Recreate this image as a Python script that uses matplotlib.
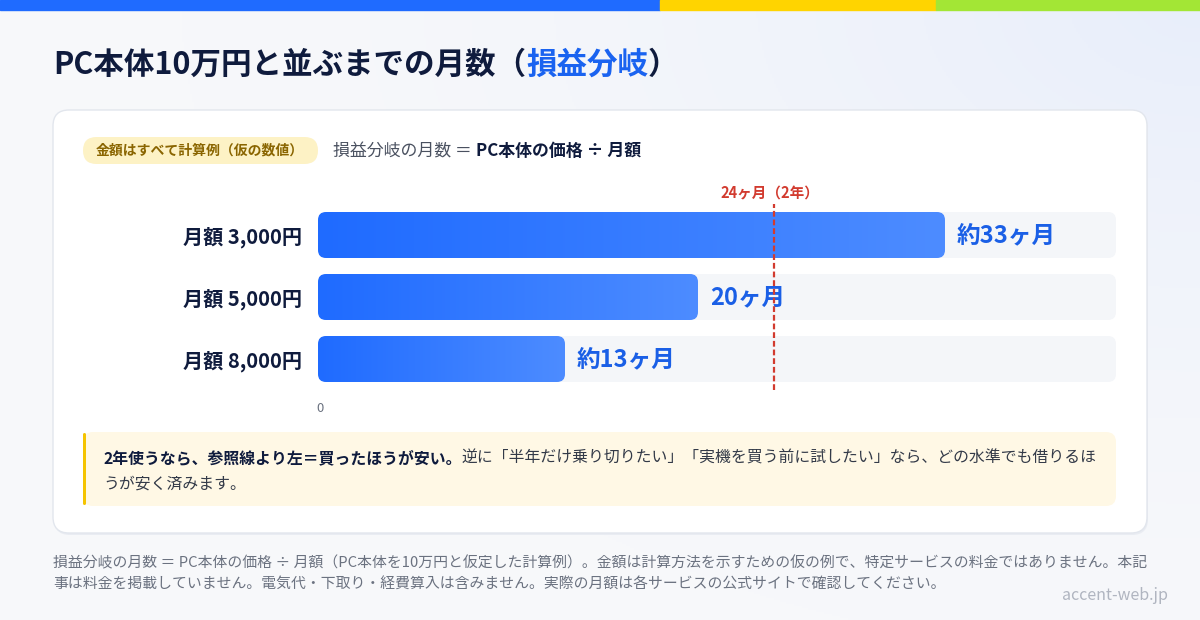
import numpy as np
import matplotlib.pyplot as plt
from matplotlib.patches import FancyBboxPatch, Rectangle
from matplotlib.colors import LinearSegmentedColormap

plt.rcParams['font.family'] = ['Noto Sans CJK JP', 'DejaVu Sans']

# data
categories = ['月額 3,000円', '月額 5,000円', '月額 8,000円']
months = [33, 20, 13]
value_labels = ['約33ヶ月', '20ヶ月', '約13ヶ月']
ref_month = 24
ref_label = '24ヶ月（2年）'
x_max = 42

title_parts = ['PC本体10万円と並ぶまでの月数（', '損益分岐', '）']
pill_text = '金額はすべて計算例（仮の数値）'
formula_parts = ['損益分岐の月数 ＝ ', 'PC本体の価格 ÷ 月額']
note_bold = '2年使うなら、参照線より左＝買ったほうが安い。'
note_rest = '逆に「半年だけ乗り切りたい」「実機を買う前に試したい」なら、どの水準でも借りるほ'
note_line2 = 'うが安く済みます。'
footer_lines = [
    '損益分岐の月数 ＝ PC本体の価格 ÷ 月額（PC本体を10万円と仮定した計算例）。金額は計算方法を示すための仮の例で、特定サービスの料金ではありません。本記',
    '事は料金を掲載していません。電気代・下取り・経費算入は含みません。実際の月額は各サービスの公式サイトで確認してください。',
]
credit = 'accent-web.jp'

NAVY = '#0f1b3d'
BLUE = '#1a63f0'
RED = '#d23b2f'
GRAY = '#6b7280'

W, H = 1200, 620
fig = plt.figure(figsize=(12, 6.2), dpi=100)
bg = fig.add_axes([0, 0, 1, 1])
bg.axis('off')

# soft background, a little bluer towards the top right
yy, xx = np.mgrid[0:H:2, 0:W:2]
d = np.hypot((W - xx) / W, yy / H * 0.8)
t = np.clip(1 - d / 0.85, 0, 1) ** 1.6
base = np.array([247, 248, 250]) / 255
tint = np.array([232, 238, 250]) / 255
bg.imshow(base + (tint - base) * t[..., None], extent=(0, W, H, 0),
          aspect='auto', zorder=0)
bg.set_xlim(0, W)
bg.set_ylim(H, 0)

# top stripe
bg.add_patch(Rectangle((0, 0), 660, 10, color='#1f6bff', zorder=1))
bg.add_patch(Rectangle((660, 0), 276, 10, color='#ffd400', zorder=1))
bg.add_patch(Rectangle((936, 0), 264, 10, color='#a3e635', zorder=1))

renderer = fig.canvas.get_renderer()


def draw_runs(x, y, parts, size):
    for s, weight, color in parts:
        txt = bg.text(x, y, s, fontsize=size, fontweight=weight, color=color,
                      ha='left', va='center', zorder=5)
        x += txt.get_window_extent(renderer).width


draw_runs(53, 65, [(title_parts[0], 'bold', NAVY),
                   (title_parts[1], 'bold', BLUE),
                   (title_parts[2], 'bold', NAVY)], 22)

# card
bg.add_patch(FancyBboxPatch((54, 112), 1094, 423,
                            boxstyle='round,pad=0,rounding_size=16',
                            fc='#e9ecf2', ec='none', zorder=1))
bg.add_patch(FancyBboxPatch((53, 110), 1094, 423,
                            boxstyle='round,pad=0,rounding_size=16',
                            fc='white', ec='#e2e6ed', lw=1, zorder=2))

# pill + formula
bg.add_patch(FancyBboxPatch((83, 137), 235, 27,
                            boxstyle='round,pad=0,rounding_size=13.5',
                            fc='#fdf2c5', ec='none', zorder=3))
bg.text(200, 150.5, pill_text, fontsize=10, fontweight='bold', color='#8a6500',
        ha='center', va='center', zorder=5)
draw_runs(333, 151, [(formula_parts[0], 'normal', '#4a5160'),
                     (formula_parts[1], 'bold', NAVY)], 12.2)

# bar chart area
ax = fig.add_axes([318 / W, 1 - 390 / H, 798 / W, 186 / H])
ax.patch.set_alpha(0)
n = len(categories)
px_x = 798 / x_max
px_y = 62
bar_h = 46 / px_y
r = 8 / px_x
asp = px_x / px_y
cmap = LinearSegmentedColormap.from_list('bar', ['#1f6bff', '#4d8cff'])
grad = np.linspace(0, 1, 256).reshape(1, -1)

for i, (m, lab) in enumerate(zip(months, value_labels)):
    ax.add_patch(FancyBboxPatch((0, i - bar_h / 2), x_max, bar_h,
                                boxstyle=f'round,pad=0,rounding_size={r}',
                                mutation_aspect=asp, fc='#f4f6f9', ec='none',
                                zorder=1))
    bar = FancyBboxPatch((0, i - bar_h / 2), m, bar_h,
                         boxstyle=f'round,pad=0,rounding_size={r}',
                         mutation_aspect=asp, fc='none', ec='none', zorder=2)
    ax.add_patch(bar)
    im = ax.imshow(grad, cmap=cmap, extent=(0, m, i + bar_h / 2, i - bar_h / 2),
                   aspect='auto', zorder=2)
    im.set_clip_path(bar)
    ax.text(m + 12 / px_x, i, lab, fontsize=17, fontweight='bold',
            color='#1a5fe6', ha='left', va='center', zorder=4)

ax.axvline(ref_month, color=RED, lw=1.6, ls=(0, (2.6, 1.3)), zorder=5)
ax.text(ref_month - 4 / px_x, -0.5 - 11 / px_y, ref_label, fontsize=10.5,
        fontweight='bold', color=RED, ha='center', va='center', clip_on=False)
ax.text(2 / px_x, n - 0.5 + 19 / px_y, '0', fontsize=9.5, color=GRAY,
        ha='center', va='center', clip_on=False)

ax.set_xlim(0, x_max)
ax.set_ylim(n - 0.5, -0.5)
ax.set_xticks([])
ax.set_yticks(range(n))
ax.set_yticklabels(categories, fontsize=14.5, fontweight='bold', color=NAVY)
ax.tick_params(axis='y', length=0, pad=11.5)
for s in ax.spines.values():
    s.set_visible(False)

# note box
bg.add_patch(FancyBboxPatch((83, 432), 1033, 74,
                            boxstyle='round,pad=0,rounding_size=10',
                            fc='#fff8e5', ec='none', zorder=3))
bg.add_patch(FancyBboxPatch((83, 433), 3, 72,
                            boxstyle='round,pad=0,rounding_size=1.5',
                            fc='#f5c400', ec='none', zorder=4))
draw_runs(103, 458, [(note_bold, 'bold', NAVY),
                     (note_rest, 'normal', '#333a48')], 11.4)
draw_runs(103, 484, [(note_line2, 'normal', '#333a48')], 11.4)

# footer
bg.text(53, 563, footer_lines[0], fontsize=10.7, color=GRAY, ha='left', va='center')
bg.text(53, 585, footer_lines[1], fontsize=10.7, color=GRAY, ha='left', va='center')
bg.text(1168, 596, credit, fontsize=11.5, color='#b0b5c0', ha='right', va='center')

fig.savefig('out.png', dpi=100)
